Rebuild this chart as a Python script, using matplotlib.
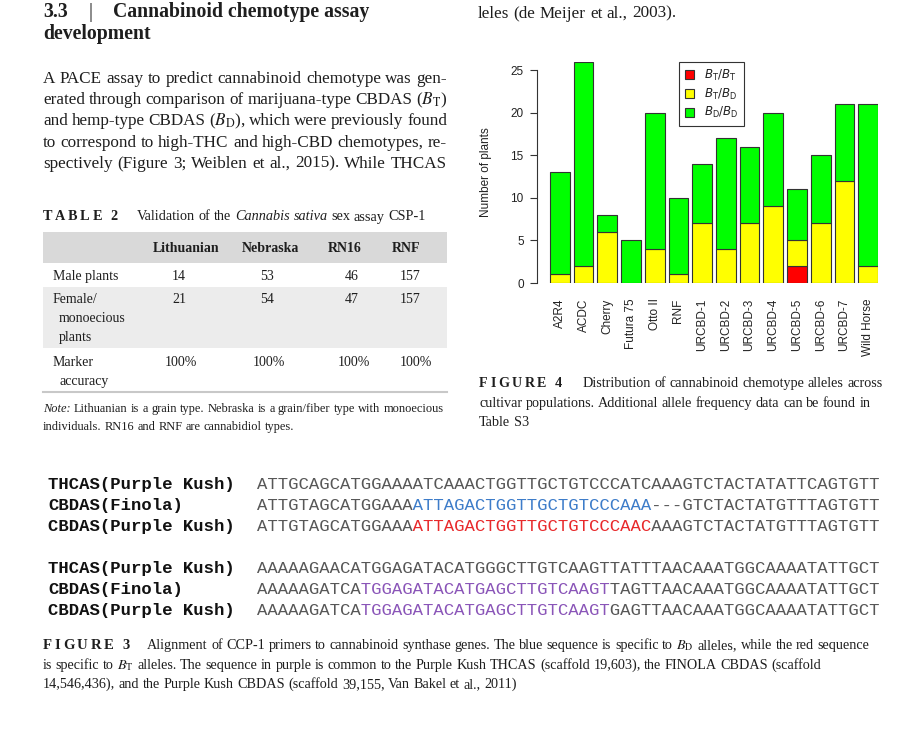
import matplotlib
matplotlib.use("Agg")
import matplotlib.pyplot as plt
from matplotlib.patches import Patch, Rectangle

# ---- chart data (Figure 4) ----
cultivars = ["A2R4", "ACDC", "Cherry", "Futura 75", "Otto II", "RNF", "URCBD-1",
             "URCBD-2", "URCBD-3", "URCBD-4", "URCBD-5", "URCBD-6", "URCBD-7", "Wild Horse"]
bt_bt = [0, 0, 0, 0, 0, 0, 0, 0, 0, 0, 2, 0, 0, 0]
bt_bd = [1, 2, 6, 0, 4, 1, 7, 4, 7, 9, 3, 7, 12, 2]
bd_bd = [12, 24, 2, 5, 16, 9, 7, 13, 9, 11, 6, 8, 9, 19]
yticks = [0, 5, 10, 15, 20, 25]

# ---- table 2 data ----
tab_cols = ["Lithuanian", "Nebraska", "RN16", "RNF"]
male = ["14", "53", "46", "157"]
female = ["21", "54", "47", "157"]
accuracy = ["100%", "100%", "100%", "100%"]

# ---- figure 3 alignment ----
seq_names = ["THCAS(Purple Kush)", "CBDAS(Finola)", "CBDAS(Purple Kush)"]
block1 = ["ATTGCAGCATGGAAAATCAAACTGGTTGCTGTCCCATCAAAGTCTACTATATTCAGTGTT",
          "ATTGTAGCATGGAAAATTAGACTGGTTGCTGTCCCAAA---GTCTACTATGTTTAGTGTT",
          "ATTGTAGCATGGAAAATTAGACTGGTTGCTGTCCCAACAAAGTCTACTATGTTTAGTGTT"]
block2 = ["AAAAAGAACATGGAGATACATGGGCTTGTCAAGTTATTTAACAAATGGCAAAATATTGCT",
          "AAAAAGATCATGGAGATACATGAGCTTGTCAAGTTAGTTAACAAATGGCAAAATATTGCT",
          "AAAAAGATCATGGAGATACATGAGCTTGTCAAGTGAGTTAACAAATGGCAAAATATTGCT"]
# highlighted stretches: (row, start, end, colour)
marks1 = [(1, 15, 38, "#3d7cc9"), (2, 15, 38, "#e8292b")]
marks2 = [(1, 10, 34, "#8a55b8"), (2, 10, 34, "#8a55b8")]

plt.rcParams.update({
    "font.family": "Liberation Serif",
    "mathtext.fontset": "stix",
})
TXT = "#1e1e1e"

W, H = 907, 730
fig = plt.figure(figsize=(W / 100, H / 100), dpi=100)
page = fig.add_axes([0, 0, 1, 1])
page.set_xlim(0, W)
page.set_ylim(H, 0)
page.axis("off")
rend = fig.canvas.get_renderer()


def wid(t):
    return t.get_window_extent(rend).width


def space_w(size, **kw):
    a = page.text(0, 0, "a a", fontsize=size, **kw)
    b = page.text(0, 0, "aa", fontsize=size, **kw)
    w = wid(a) - wid(b)
    a.remove()
    b.remove()
    return w


def fit(s, width, **kw):
    t = page.text(0, 0, s, fontsize=10, **kw)
    w = wid(t)
    t.remove()
    return 10 * width / w


def line(x, y, toks, size, width=None, color=TXT, **kw):
    arts, ws = [], []
    for tok in toks:
        s, st = (tok, {}) if isinstance(tok, str) else tok
        style = dict(kw)
        style.update(st)
        t = page.text(0, y, s, fontsize=size, color=color, va="baseline", **style)
        arts.append(t)
        ws.append(wid(t))
    if width and len(arts) > 1:
        gap = (width - sum(ws)) / (len(arts) - 1)
    else:
        gap = space_w(size, **kw)
    for t, w in zip(arts, ws):
        t.set_x(x)
        x += w + gap
    return x


def tracked(x, y, s, size, track, color=TXT, **kw):
    for ch in s:
        if ch == " ":
            x += space_w(size, **kw) + track
            continue
        t = page.text(x, y, ch, fontsize=size, color=color, va="baseline", **kw)
        x += wid(t) + track
    return x


# ---- section heading and paragraph ----
hs = fit("Cannabinoid chemotype assay", 256, weight="bold")
page.text(43, 17, "3.3", fontsize=hs, weight="bold", color=TXT, va="baseline")
page.text(89, 17, "|", fontsize=hs, color=TXT, va="baseline")
page.text(113, 17, "Cannabinoid chemotype assay", fontsize=hs, weight="bold", color=TXT, va="baseline")
page.text(43, 39, "development", fontsize=hs, weight="bold", color=TXT, va="baseline")

para = ["A PACE assay to predict cannabinoid chemotype was gen-",
        r"erated through comparison of marijuana-type CBDAS ($B_\mathrm{T}$)",
        r"and hemp-type CBDAS ($B_\mathrm{D}$), which were previously found",
        "to correspond to high-THC and high-CBD chemotypes, re-",
        "spectively (Figure 3; Weiblen et al., 2015). While THCAS"]
ps = fit(para[0], 403)
for i, s in enumerate(para):
    line(43, 83 + 21.2 * i, s.split(), ps, width=404)

line(478, 17.5, "leles (de Meijer et al., 2003).".split(), ps)

# ---- Table 2 ----
cs = fit("Validation of the Cannabis sativa sex assay CSP-1", 287)
tracked(43, 220.5, "TABLE 2", cs, 2.6, weight="bold")
line(137, 220.5, ["Validation", "of", "the", ("Cannabis", {"style": "italic"}),
                  ("sativa", {"style": "italic"}), "sex", "assay", "CSP-1"], cs)

page.add_patch(Rectangle((43, 232), 404, 31, color="#d9d9d9", lw=0))
page.add_patch(Rectangle((43, 287), 404, 61, color="#ececec", lw=0))
page.plot([43, 447], [392, 392], color="#c8c8c8", lw=1.5)

ts = 10
head_x = [153, 242, 328, 392]
val_x = [172, 260, 345, 400]
acc_x = [165, 253, 338, 400]
for hx, c in zip(head_x, tab_cols):
    page.text(hx, 252, c, fontsize=ts, weight="bold", color=TXT, va="baseline")
page.text(53, 280, "Male plants", fontsize=ts, color=TXT, va="baseline")
page.text(53, 303, "Female/", fontsize=ts, color=TXT, va="baseline")
page.text(59, 322, "monoecious", fontsize=ts, color=TXT, va="baseline")
page.text(59, 341, "plants", fontsize=ts, color=TXT, va="baseline")
page.text(53, 366, "Marker", fontsize=ts, color=TXT, va="baseline")
page.text(59, 385, "accuracy", fontsize=ts, color=TXT, va="baseline")
for vx, ax_, m, f, a in zip(val_x, acc_x, male, female, accuracy):
    page.text(vx, 280, m, fontsize=ts, color=TXT, va="baseline")
    page.text(vx, 303, f, fontsize=ts, color=TXT, va="baseline")
    page.text(ax_, 366, a, fontsize=ts, color=TXT, va="baseline")

note1 = "Lithuanian is a grain type. Nebraska is a grain/fiber type with monoecious"
ns = fit("Note: " + note1, 400)
line(43, 412, [("Note:", {"style": "italic"})] + note1.split(), ns, width=401)
line(43, 430, "individuals. RN16 and RNF are cannabidiol types.".split(), ns)

# ---- Figure 4 caption ----
f4 = fit("Distribution of cannabinoid chemotype alleles across", 300)
tracked(479, 387, "FIGURE 4", f4, 2.6, weight="bold")
line(583, 387, "Distribution of cannabinoid chemotype alleles across".split(), f4)
line(479, 407, "cultivar populations. Additional allele frequency data can be found in".split(), f4)
line(479, 426.5, "Table S3".split(), f4)

# ---- Figure 3 alignment ----
MONO = 12.4
SEQ_GRAY = "#575757"


def draw_block(rows, marks, y0):
    for r, (name, s) in enumerate(zip(seq_names, rows)):
        y = y0 + 21 * r
        page.text(48, y, name, family="Liberation Mono", weight="bold", fontsize=MONO,
                  color="#111111", va="baseline")
        hl = [(a, b, c) for rr, a, b, c in marks if rr == r]
        base = list(s)
        for a, b, c in hl:
            layer = " " * a + s[a:b] + " " * (len(s) - b)
            page.text(257, y, layer, family="Liberation Mono", fontsize=MONO, color=c, va="baseline")
            base[a:b] = " " * (b - a)
        page.text(257, y, "".join(base), family="Liberation Mono", fontsize=MONO,
                  color=SEQ_GRAY, va="baseline")


draw_block(block1, marks1, 489)
draw_block(block2, marks2, 573)

f3 = fit(r"Alignment of CCP-1 primers to cannabinoid synthase genes. The blue sequence is specific to "
         r"$B_\mathrm{D}$ alleles, while the red sequence", 722)
tracked(43, 649, "FIGURE 3", f3 * 1.05, 2.6, weight="bold")
line(147, 649, (r"Alignment of CCP-1 primers to cannabinoid synthase genes. The blue sequence is specific to "
                r"$B_\mathrm{D}$ alleles, while the red sequence").split(), f3)
line(43, 669, (r"is specific to $B_\mathrm{T}$ alleles. The sequence in purple is common to the Purple Kush "
               r"THCAS (scaffold 19,603), the FINOLA CBDAS (scaffold").split(), f3)
line(43, 688, ("14,546,436), and the Purple Kush CBDAS (scaffold 39,155, Van Bakel et al., 2011)").split(), f3)

# ---- Figure 4 chart ----
ax = fig.add_axes([546 / W, (H - 283) / H, 332 / W, (283 - 61.7) / H])
x = [0.7 + 1.2 * i for i in range(len(cultivars))]
bottom2 = bt_bt
bottom3 = [a + b for a, b in zip(bt_bt, bt_bd)]
ec = dict(edgecolor="#333333", linewidth=0.8, width=1.0)
ax.bar(x, bt_bt, color="#ff0000", **ec)
ax.bar(x, bt_bd, bottom=bottom2, color="#ffff00", **ec)
ax.bar(x, bd_bd, bottom=bottom3, color="#00ff00", **ec)
ax.set_xlim(0, 16.8)
ax.set_ylim(0, 26)
for sp in ["top", "right", "bottom"]:
    ax.spines[sp].set_visible(False)
ax.spines["left"].set_position(("outward", 6.5))
ax.spines["left"].set_bounds(0, 25)
ax.spines["left"].set_color("#333333")
ax.set_yticks(yticks)
ax.set_yticklabels([str(v) for v in yticks], family="Liberation Sans", fontsize=8.5, color="#222222")
ax.tick_params(axis="y", length=5, width=0.8, pad=4.5, color="#333333")
ax.set_xticks(x)
ax.set_xticklabels(cultivars, rotation=90, family="Liberation Sans", fontsize=8.5, color="#222222")
ax.tick_params(axis="x", length=0, pad=11)
ax.set_ylabel("Number of plants", family="Liberation Sans", fontsize=8.5, color="#222222")
ax.yaxis.set_label_coords(-0.163, 0.5)
ax.patch.set_alpha(0)

handles = [Patch(facecolor="#ff0000", edgecolor="#333333", linewidth=0.8),
           Patch(facecolor="#ffff00", edgecolor="#333333", linewidth=0.8),
           Patch(facecolor="#00ff00", edgecolor="#333333", linewidth=0.8)]
labels = [r"$B_\mathrm{T}/B_\mathrm{T}$", r"$B_\mathrm{T}/B_\mathrm{D}$", r"$B_\mathrm{D}/B_\mathrm{D}$"]
leg = ax.legend(handles, labels, loc="upper left", bbox_to_anchor=(679 / W, 1 - 62 / H),
                bbox_transform=fig.transFigure, borderaxespad=0, fancybox=False,
                edgecolor="#333333", framealpha=1, fontsize=8.5, handlelength=0.8,
                handleheight=0.8, handletextpad=0.8, labelspacing=0.3, borderpad=0.5)
leg.get_frame().set_linewidth(0.8)
for t in leg.get_texts():
    t.set_math_fontfamily("dejavusans")
    t.set_color("#222222")

fig.savefig("out.png", dpi=100)
